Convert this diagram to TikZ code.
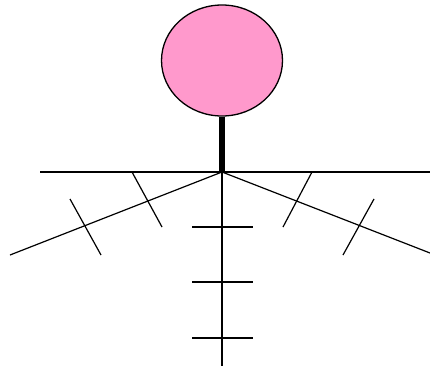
\documentclass[tikz,border=0pt]{standalone}
\usepackage{tikz}
\usetikzlibrary{shapes.geometric}
\definecolor{headpink}{HTML}{FF99CC}
\begin{document}
\begin{tikzpicture}[x=1pt,y=-1pt,line width=1.2pt]
  \useasboundingbox (0,0) rectangle (430,369);
  \tikzset{limb/.style={black,line width=1.2pt},tick/.style={black,line width=1.2pt}}
  \coordinate (hub) at (222,172);
  \node[ellipse,draw,line width=1.3pt,fill=headpink,minimum width=121pt,minimum height=111pt,inner sep=0pt] (head) at (222,60.5) {};
  \draw[line width=6pt] (head.south) -- (hub);
  % arms and legs
  \coordinate (armL) at (40,172);
  \coordinate (armR) at (430,172);
  \coordinate (legL) at (10,255);
  \coordinate (legR) at (430,253);
  \coordinate (legC) at (222,366);
  \draw[limb] (armL) -- (armR);
  \draw[limb] (hub) -- (legL);
  \draw[limb] (hub) -- (legR);
  \draw[limb] (hub) -- (legC);
  % ticks on the left leg
  \draw[tick] (132,172) -- (162,227);
  \draw[tick] (70,199) -- (101,255);
  % ticks on the right leg
  \draw[tick] (312,172) -- (283,227);
  \draw[tick] (374,199) -- (343,255);
  % ticks on the middle leg
  \foreach \y in {227,282,338}
    \draw[tick] (192,\y) -- (253,\y);
\end{tikzpicture}
\end{document}
